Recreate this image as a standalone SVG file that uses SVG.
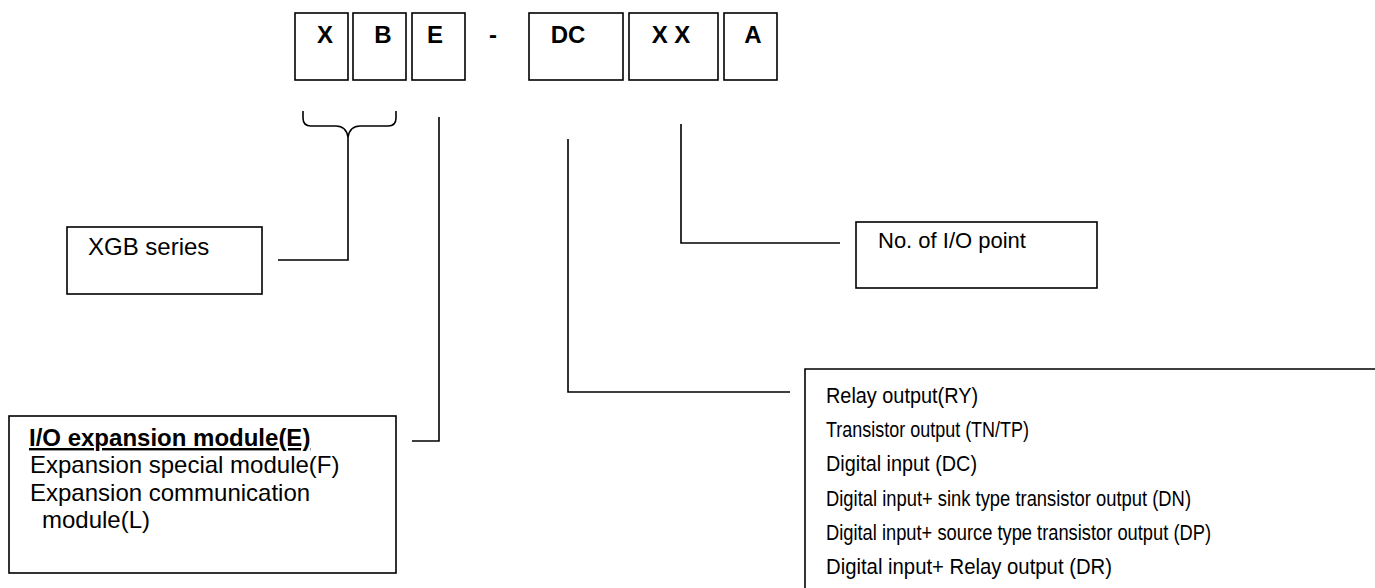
<svg xmlns="http://www.w3.org/2000/svg" width="1375" height="588" viewBox="0 0 1375 588">
<style>
.box{fill:#fff;stroke:#000;stroke-width:1.6}
.ln{fill:none;stroke:#000;stroke-width:1.6}
.code{font-family:"Liberation Sans",Arial,sans-serif;font-weight:bold;font-size:24px;fill:#000;text-anchor:middle}
.t{font-family:"Liberation Sans",Arial,sans-serif;font-size:24px;fill:#000}
.b{font-weight:bold;text-decoration:underline}
.r{font-family:"Liberation Sans",Arial,sans-serif;font-size:22px;fill:#000}
</style>
<rect width="1375" height="588" fill="#fff"/>
<g id="code-X"><rect class="box" x="295" y="13" width="53" height="67"/><text class="code" x="325" y="43">X</text></g>
<g id="code-B"><rect class="box" x="353" y="13" width="53" height="67"/><text class="code" x="383" y="43">B</text></g>
<g id="code-E"><rect class="box" x="412" y="13" width="53" height="67"/><text class="code" x="435" y="43">E</text></g>
<g id="code-dash"><text class="code" x="493" y="43">-</text></g>
<g id="code-DC"><rect class="box" x="529" y="13" width="94" height="67"/><text class="code" x="568" y="43">DC</text></g>
<g id="code-XX"><rect class="box" x="629" y="13" width="89" height="67"/><text class="code" x="671" y="43">X X</text></g>
<g id="code-A"><rect class="box" x="724" y="13" width="53" height="67"/><text class="code" x="753" y="43">A</text></g>

<g id="connectors">
<path class="ln" d="M303,111 V118 Q303,126 311,126 H336 Q346,126 348,137 Q350,126 360,126 H388 Q396,126 396,118 V111"/>
<path class="ln" d="M348,137 V260 H278"/>
<path class="ln" d="M439,117 V441 H412"/>
<path class="ln" d="M568,139 V392 H790"/>
<path class="ln" d="M681,124 V243 H840"/>
</g>

<g id="xgb-series"><rect class="box" x="67" y="227" width="195" height="67"/><text class="t" x="88" y="255" font-size="24.5">XGB series</text></g>

<g id="io-points"><rect class="box" x="856" y="222" width="241" height="66"/><text class="r" x="878" y="248" font-size="21">No. of I/O point</text></g>

<g id="module-type"><rect class="box" x="9" y="416" width="387" height="157"/>
<text class="t b" x="29" y="446">I/O expansion module(E)</text>
<text class="t" x="30" y="473">Expansion special module(F)</text>
<text class="t" x="30" y="501">Expansion communication</text>
<text class="t" x="42" y="528">module(L)</text>
</g>

<g id="io-type"><path class="ln" d="M805,588 V369 H1375"/>
<text class="r" x="826" y="403" textLength="152" lengthAdjust="spacingAndGlyphs">Relay output(RY)</text>
<text class="r" x="826" y="437" textLength="203" lengthAdjust="spacingAndGlyphs">Transistor output (TN/TP)</text>
<text class="r" x="826" y="471" textLength="151" lengthAdjust="spacingAndGlyphs">Digital input (DC)</text>
<text class="r" x="826" y="506" textLength="365" lengthAdjust="spacingAndGlyphs">Digital input+ sink type transistor output (DN)</text>
<text class="r" x="826" y="540" textLength="385" lengthAdjust="spacingAndGlyphs">Digital input+ source type transistor output (DP)</text>
<text class="r" x="826" y="574" textLength="286" lengthAdjust="spacingAndGlyphs">Digital input+ Relay output (DR)</text>
</g>
</svg>
